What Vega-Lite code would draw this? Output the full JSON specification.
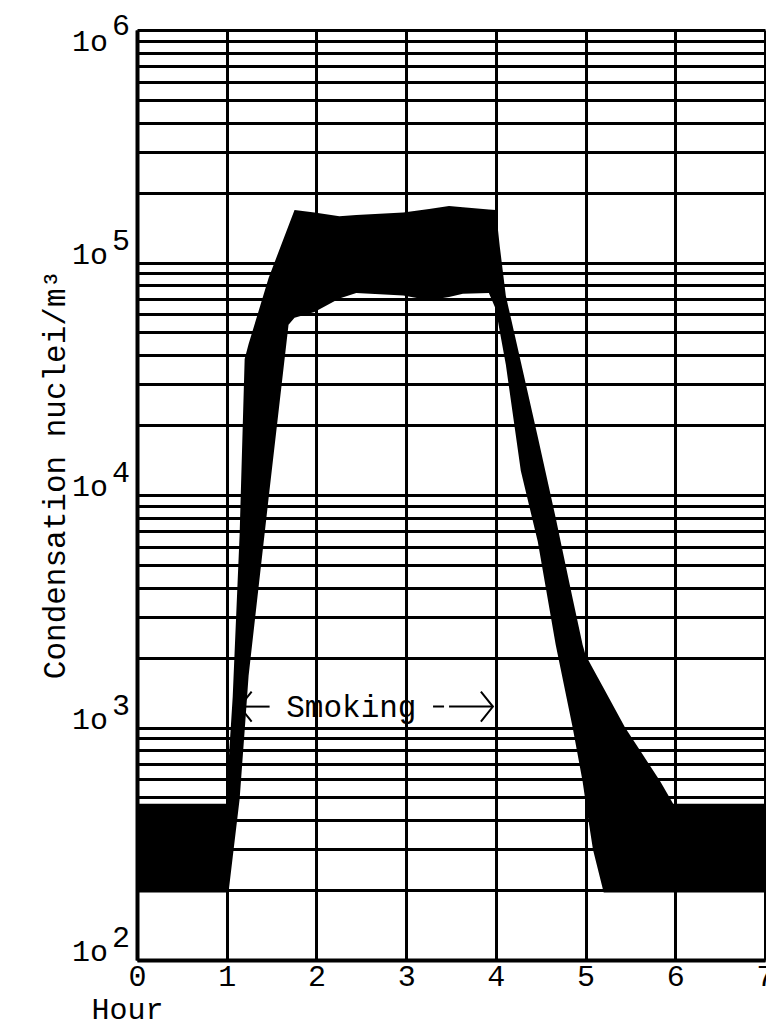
{
  "$schema": "https://vega.github.io/schema/vega-lite/v6.json",
  "width": 628,
  "height": 930,
  "autosize": {"type": "none"},
  "padding": {"left": 137, "top": 30, "right": 1, "bottom": 66},
  "background": "white",
  "config": {"view": {"stroke": null}, "font": "Liberation Mono"},
  "datasets": {
    "band": [
      {"hour": 0, "hi": 470, "lo": 195},
      {"hour": 1.0, "hi": 470, "lo": 195},
      {"hour": 1.02, "hi": 700, "lo": 195},
      {"hour": 1.067, "hi": 1360, "lo": 277},
      {"hour": 1.144, "hi": 6780, "lo": 493},
      {"hour": 1.2, "hi": 38500, "lo": 970},
      {"hour": 1.244, "hi": 44600, "lo": 1670},
      {"hour": 1.467, "hi": 85700, "lo": 9700},
      {"hour": 1.689, "hi": 144000, "lo": 54000},
      {"hour": 1.756, "hi": 168000, "lo": 57800},
      {"hour": 1.978, "hi": 164000, "lo": 61200},
      {"hour": 2.256, "hi": 158000, "lo": 70000},
      {"hour": 2.444, "hi": 160000, "lo": 74000},
      {"hour": 2.967, "hi": 164000, "lo": 72200},
      {"hour": 3.256, "hi": 170000, "lo": 68800},
      {"hour": 3.478, "hi": 175000, "lo": 71000},
      {"hour": 3.633, "hi": 173000, "lo": 73400},
      {"hour": 3.922, "hi": 169000, "lo": 74000},
      {"hour": 4.0, "hi": 168000, "lo": 63000},
      {"hour": 4.044, "hi": 117000, "lo": 50500},
      {"hour": 4.111, "hi": 72000, "lo": 36400},
      {"hour": 4.278, "hi": 37400, "lo": 12700},
      {"hour": 4.467, "hi": 17800, "lo": 6310},
      {"hour": 4.667, "hi": 7980, "lo": 2270},
      {"hour": 4.722, "hi": 6310, "lo": 1790},
      {"hour": 4.856, "hi": 3590, "lo": 1000},
      {"hour": 4.967, "hi": 2270, "lo": 586},
      {"hour": 5.0, "hi": 2050, "lo": 479},
      {"hour": 5.083, "hi": 1790, "lo": 298},
      {"hour": 5.202, "hi": 1475, "lo": 195},
      {"hour": 5.44, "hi": 1000, "lo": 195},
      {"hour": 5.833, "hi": 586, "lo": 195},
      {"hour": 5.976, "hi": 470, "lo": 195},
      {"hour": 7, "hi": 470, "lo": 195}
    ],
    "decades": [
      {"v": 1000000, "base": "1o", "exp": "6"},
      {"v": 100000, "base": "1o", "exp": "5"},
      {"v": 10000, "base": "1o", "exp": "4"},
      {"v": 1000, "base": "1o", "exp": "3"},
      {"v": 100, "base": "1o", "exp": "2"}
    ]
  },
  "layer": [
    {
      "data": {"name": "band"},
      "mark": {"type": "area", "color": "black", "interpolate": "linear"},
      "encoding": {
        "x": {
          "field": "hour", "type": "quantitative",
          "scale": {"domain": [0, 7], "nice": false, "zero": false},
          "axis": {
            "values": [0, 1, 2, 3, 4, 5, 6, 7], "format": "d",
            "grid": true, "gridColor": "black", "gridWidth": 3, "gridOpacity": 1,
            "domainColor": "black", "domainWidth": 4,
            "ticks": false,
            "labelFont": "Liberation Mono", "labelFontSize": 30, "labelColor": "black",
            "labelPadding": 1, "labelFlush": false, "labelBaseline": "top", "labelOverlap": false,
            "title": "Hour", "titleFont": "Liberation Mono", "titleFontSize": 30,
            "titleFontWeight": "normal", "titleColor": "black",
            "titleX": -10, "titleY": 58, "titleAlign": "center", "titleBaseline": "alphabetic"
          }
        },
        "y": {
          "field": "hi", "type": "quantitative",
          "scale": {"type": "log", "domain": [100, 1000000], "nice": false},
          "axis": {
            "values": [100, 200, 300, 400, 500, 600, 700, 800, 900,
                       1000, 2000, 3000, 4000, 5000, 6000, 7000, 8000, 9000,
                       10000, 20000, 30000, 40000, 50000, 60000, 70000, 80000, 90000,
                       100000, 200000, 300000, 400000, 500000, 600000, 700000, 800000, 900000, 1000000],
            "grid": true, "gridColor": "black", "gridWidth": 3, "gridOpacity": 1,
            "domainColor": "black", "domainWidth": 4,
            "ticks": false, "labels": false,
            "title": "Condensation nuclei/m³", "titleFont": "Liberation Mono", "titleFontSize": 31,
            "titleFontWeight": "normal", "titleColor": "black",
            "titleAngle": -90, "titleX": -82, "titleY": 444, "titleAlign": "center", "titleBaseline": "middle"
          }
        },
        "y2": {"field": "lo"}
      }
    },
    {
      "data": {"name": "decades"},
      "transform": [{"filter": "datum.v < 1000000"}],
      "mark": {"type": "text", "align": "right", "baseline": "alphabetic", "fontSize": 30, "font": "Liberation Mono", "color": "black", "dx": -29, "dy": 1},
      "encoding": {
        "x": {"datum": 0, "type": "quantitative"},
        "y": {"field": "v", "type": "quantitative"},
        "text": {"field": "base"}
      }
    },
    {
      "data": {"name": "decades"},
      "transform": [{"filter": "datum.v < 1000000"}],
      "mark": {"type": "text", "align": "right", "baseline": "alphabetic", "fontSize": 30, "font": "Liberation Mono", "color": "black", "dx": -7, "dy": -13},
      "encoding": {
        "x": {"datum": 0, "type": "quantitative"},
        "y": {"field": "v", "type": "quantitative"},
        "text": {"field": "exp"}
      }
    },
    {
      "data": {"name": "decades"},
      "transform": [{"filter": "datum.v == 1000000"}],
      "mark": {"type": "text", "align": "right", "baseline": "alphabetic", "fontSize": 30, "font": "Liberation Mono", "color": "black", "dx": -29, "dy": 21},
      "encoding": {
        "x": {"datum": 0, "type": "quantitative"},
        "y": {"field": "v", "type": "quantitative"},
        "text": {"field": "base"}
      }
    },
    {
      "data": {"name": "decades"},
      "transform": [{"filter": "datum.v == 1000000"}],
      "mark": {"type": "text", "align": "right", "baseline": "alphabetic", "fontSize": 30, "font": "Liberation Mono", "color": "black", "dx": -7, "dy": 5},
      "encoding": {
        "x": {"datum": 0, "type": "quantitative"},
        "y": {"field": "v", "type": "quantitative"},
        "text": {"field": "exp"}
      }
    },
    {
      "data": {"values": [{"x1": 1.144, "x2": 1.478, "y": 1230}]},
      "mark": {"type": "rule", "color": "black", "strokeWidth": 2},
      "encoding": {
        "x": {"field": "x1", "type": "quantitative"},
        "x2": {"field": "x2"},
        "y": {"field": "y", "type": "quantitative"}
      }
    },
    {
      "data": {"values": [{"x1": 3.3, "x2": 3.97, "y": 1230}]},
      "mark": {"type": "rule", "color": "black", "strokeWidth": 2, "strokeDash": [11, 5, 80, 0]},
      "encoding": {
        "x": {"field": "x1", "type": "quantitative"},
        "x2": {"field": "x2"},
        "y": {"field": "y", "type": "quantitative"}
      }
    },
    {
      "data": {"values": [{"x": 1.211, "y": 1230}]},
      "mark": {"type": "point", "shape": "M0.4,-1L-0.4,0L0.4,1", "size": 900, "filled": false, "color": "black", "strokeWidth": 2, "opacity": 1},
      "encoding": {
        "x": {"field": "x", "type": "quantitative"},
        "y": {"field": "y", "type": "quantitative"}
      }
    },
    {
      "data": {"values": [{"x": 3.9, "y": 1230}]},
      "mark": {"type": "point", "shape": "M-0.4,-1L0.4,0L-0.4,1", "size": 900, "filled": false, "color": "black", "strokeWidth": 2, "opacity": 1},
      "encoding": {
        "x": {"field": "x", "type": "quantitative"},
        "y": {"field": "y", "type": "quantitative"}
      }
    },
    {
      "data": {"values": [{"x": 2.389, "y": 1230, "label": "Smoking"}]},
      "mark": {"type": "text", "align": "center", "baseline": "alphabetic", "fontSize": 31, "font": "Liberation Mono", "color": "black", "dy": 10},
      "encoding": {
        "x": {"field": "x", "type": "quantitative"},
        "y": {"field": "y", "type": "quantitative"},
        "text": {"field": "label"}
      }
    }
  ]
}
